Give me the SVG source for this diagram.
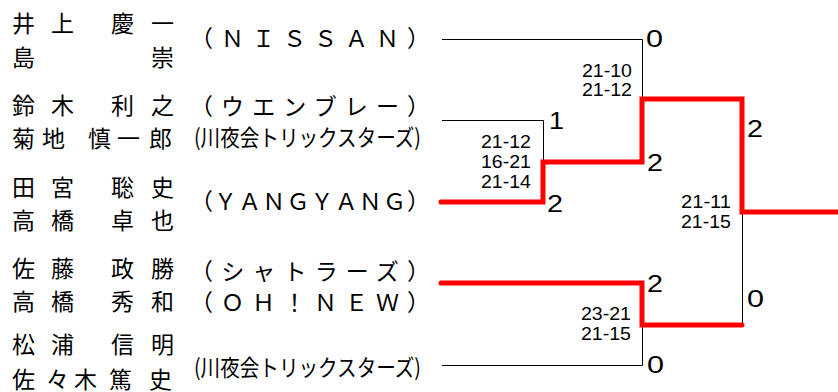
<svg xmlns="http://www.w3.org/2000/svg" width="838" height="392" viewBox="0 0 838 392">
<style>
.nm{font-family:"Noto Sans CJK JP","Noto Sans",sans-serif;font-size:23px;fill:#000}
.tm{font-family:"Noto Sans CJK JP","Noto Sans",sans-serif;font-size:23px;fill:#000}
.sc{font-family:"Liberation Sans","Noto Sans CJK JP",sans-serif;font-size:19px;fill:#000;text-anchor:end}
.rs{font-family:"Liberation Sans","Noto Sans CJK JP",sans-serif;font-size:23px;fill:#000}
.ln{fill:none;stroke:#000;stroke-width:1}
.win{fill:none;stroke:#ff0000;stroke-width:5;stroke-linecap:round;stroke-linejoin:miter}
</style>
<rect width="838" height="392" fill="#fff"/>
<g id="entry1">
<text class="nm" x="12 51 111 151" y="32">井上慶一</text>
<text class="nm" x="12 151" y="66">島崇</text>
<text class="tm" x="190" y="47" textLength="240" lengthAdjust="spacing">（ＮＩＳＳＡＮ）</text>
</g>
<g id="entry2">
<text class="nm" x="12 51 111 151" y="114">鈴木利之</text>
<text class="nm" x="12 42 88 117 149" y="147">菊地慎一郎</text>
<text class="tm" x="190" y="115" textLength="240" lengthAdjust="spacing">（ウエンブレー）</text>
<text class="tm" x="194" y="146" textLength="227" lengthAdjust="spacingAndGlyphs">(川夜会トリックスターズ)</text>
</g>
<g id="entry3">
<text class="nm" x="12 51 111 151" y="196">田宮聡史</text>
<text class="nm" x="12 51 111 151" y="229">高橋卓也</text>
<text class="tm" x="190" y="210" textLength="240" lengthAdjust="spacing">（ＹＡＮＧＹＡＮＧ）</text>
</g>
<g id="entry4">
<text class="nm" x="12 51 111 151" y="277">佐藤政勝</text>
<text class="nm" x="12 51 111 151" y="310">高橋秀和</text>
<text class="tm" x="190" y="280" textLength="240" lengthAdjust="spacing">（シャトラーズ）</text>
<text class="tm" x="190" y="311" textLength="240" lengthAdjust="spacing">（ＯＨ！ＮＥＷ）</text>
</g>
<g id="entry5">
<text class="nm" x="12 51 111 151" y="353">松浦信明</text>
<text class="nm" x="12 46 74 109 149" y="388">佐々木篤史</text>
<text class="tm" x="194" y="376" textLength="227" lengthAdjust="spacingAndGlyphs">(川夜会トリックスターズ)</text>
</g>
<g id="connectors">
<path class="ln" d="M442,39.5 H642.5 V99"/>
<path class="ln" d="M442,120.5 H543.5 V163"/>
<path class="ln" d="M442,365.5 H642.5 V325"/>
<path class="ln" d="M742.5,212 V323"/>
<path class="win" d="M441,202 H543 V162 H642 V99 H742 V212 H838"/>
<path class="win" d="M441,283 H642 V325 H742"/>
</g>
<g id="scores">
<text class="sc" x="632" y="77" textLength="50" lengthAdjust="spacingAndGlyphs">21-10</text>
<text class="sc" x="632" y="96" textLength="50" lengthAdjust="spacingAndGlyphs">21-12</text>
<text class="sc" x="531" y="148" textLength="50" lengthAdjust="spacingAndGlyphs">21-12</text>
<text class="sc" x="531" y="168" textLength="50" lengthAdjust="spacingAndGlyphs">16-21</text>
<text class="sc" x="531" y="188" textLength="50" lengthAdjust="spacingAndGlyphs">21-14</text>
<text class="sc" x="731" y="208" textLength="50" lengthAdjust="spacingAndGlyphs">21-11</text>
<text class="sc" x="731" y="228" textLength="50" lengthAdjust="spacingAndGlyphs">21-15</text>
<text class="sc" x="631" y="320" textLength="50" lengthAdjust="spacingAndGlyphs">23-21</text>
<text class="sc" x="631" y="340" textLength="50" lengthAdjust="spacingAndGlyphs">21-15</text>
</g>
<g id="results">
<text class="rs" x="646" y="47" textLength="17" lengthAdjust="spacingAndGlyphs">0</text>
<text class="rs" x="549" y="129" textLength="15" lengthAdjust="spacingAndGlyphs">1</text>
<text class="rs" x="547" y="212" textLength="16" lengthAdjust="spacingAndGlyphs">2</text>
<text class="rs" x="647" y="171" textLength="16" lengthAdjust="spacingAndGlyphs">2</text>
<text class="rs" x="747" y="137" textLength="16" lengthAdjust="spacingAndGlyphs">2</text>
<text class="rs" x="647" y="292" textLength="16" lengthAdjust="spacingAndGlyphs">2</text>
<text class="rs" x="747" y="307" textLength="17" lengthAdjust="spacingAndGlyphs">0</text>
<text class="rs" x="647" y="373" textLength="17" lengthAdjust="spacingAndGlyphs">0</text>
</g>
</svg>
